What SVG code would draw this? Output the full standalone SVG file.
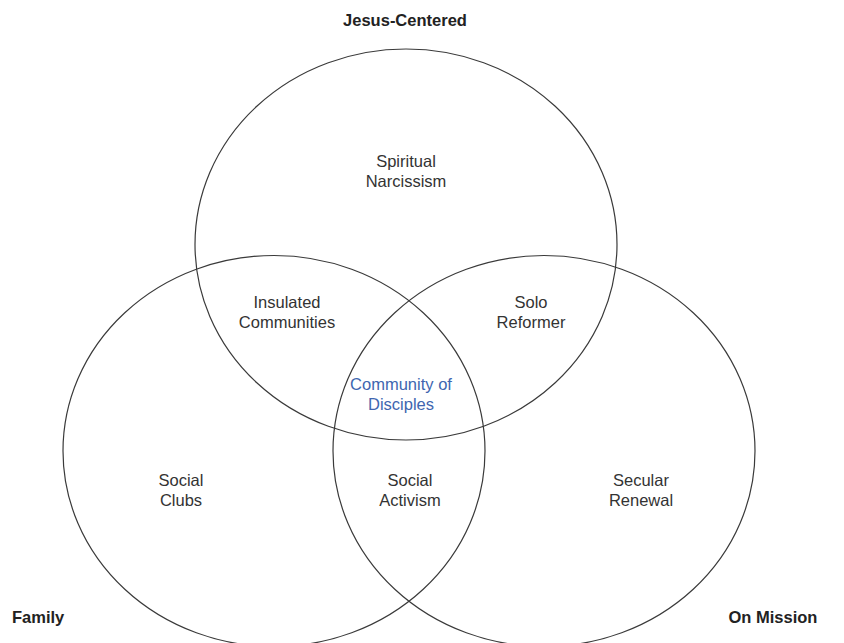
<svg xmlns="http://www.w3.org/2000/svg" width="844" height="643" viewBox="0 0 844 643">
<style>
.c{fill:none;stroke:#3a3a3a;stroke-width:1.2}
.t{font-family:"Liberation Sans",Arial,sans-serif;font-size:16.5px;fill:#333;text-anchor:middle}
.b{font-family:"Liberation Sans",Arial,sans-serif;font-size:16.5px;font-weight:bold;fill:#222}
.blue{fill:#4066b0}
</style>
<rect width="844" height="643" fill="#fff"/>
<g id="circles">
<ellipse id="jesus" class="c" cx="406" cy="244.5" rx="211" ry="195.5"/>
<ellipse id="family" class="c" cx="274" cy="451" rx="211" ry="195.5"/>
<ellipse id="mission" class="c" cx="544" cy="451" rx="211" ry="195.5"/>
</g>
<g id="labels">
<text class="b" x="405" y="26" text-anchor="middle">Jesus-Centered</text>
<text class="b" x="12" y="623">Family</text>
<text class="b" x="773" y="623" text-anchor="middle">On Mission</text>
</g>
<g id="regions">
<text class="t" x="406" y="167">Spiritual<tspan x="406" dy="20">Narcissism</tspan></text>
<text class="t" x="287" y="308">Insulated<tspan x="287" dy="20">Communities</tspan></text>
<text class="t" x="531" y="308">Solo<tspan x="531" dy="20">Reformer</tspan></text>
<text class="t blue" x="401" y="390">Community of<tspan x="401" dy="20">Disciples</tspan></text>
<text class="t" x="181" y="486">Social<tspan x="181" dy="20">Clubs</tspan></text>
<text class="t" x="410" y="486">Social<tspan x="410" dy="20">Activism</tspan></text>
<text class="t" x="641" y="486">Secular<tspan x="641" dy="20">Renewal</tspan></text>
</g>
</svg>
